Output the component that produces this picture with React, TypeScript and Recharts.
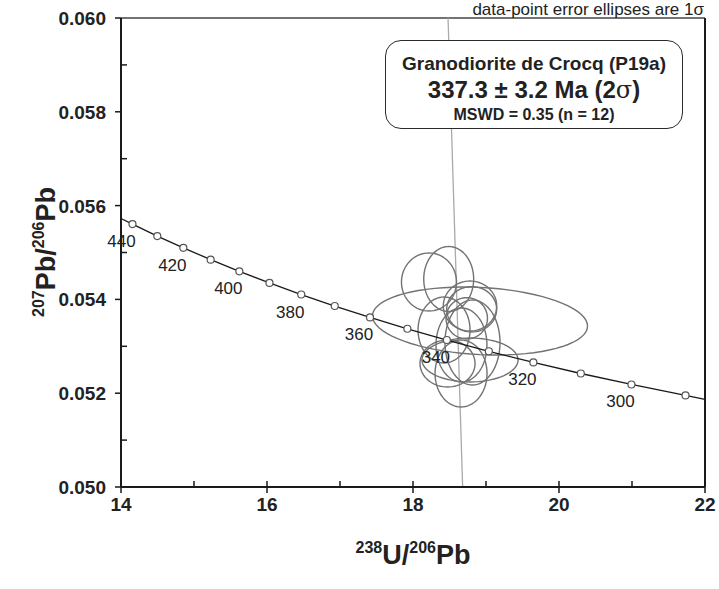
import React from 'react';
import { ScatterChart, Scatter, XAxis, YAxis, ReferenceLine } from 'recharts';

// Concordia age markers (Ma) and their Tera-Wasserburg coordinates
const ages = [440, 430, 420, 410, 400, 390, 380, 370, 360, 350, 340, 330, 320, 310, 300, 290];
const concX = [14.157, 14.497, 14.854, 15.228, 15.621, 16.034, 16.469, 16.928, 17.411, 17.923, 18.464, 19.039, 19.649, 20.299, 20.992, 21.733];
const concY = [0.055606, 0.055351, 0.0551, 0.054848, 0.054598, 0.054351, 0.054104, 0.053859, 0.053616, 0.053374, 0.053134, 0.052894, 0.052656, 0.05242, 0.052186, 0.051952];
// where the curve meets the left and right frame
const concEndX = [14, 22];
const concEndY = [0.055725, 0.051869];

// Analyses: ellipse centres, 1-sigma half-widths and error correlation
const ellX = [18.219, 18.489, 18.918, 18.781, 18.804, 18.736, 18.425, 18.664, 18.815, 18.473, 18.781, 18.658];
const ellY = [0.054371, 0.054435, 0.053539, 0.053859, 0.053789, 0.053597, 0.053348, 0.053028, 0.053081, 0.052633, 0.052708, 0.05242];
const ellSx = [0.377, 0.342, 1.473, 0.366, 0.342, 0.284, 0.356, 0.349, 0.377, 0.377, 0.658, 0.356];
const ellSy = [0.000619, 0.000693, 0.000725, 0.000533, 0.000484, 0.000441, 0.000703, 0.000789, 0.000906, 0.000501, 0.000469, 0.000714];
const ellRho = [0, 0, -0.15, 0, 0, 0, 0, 0, 0, 0, 0, 0];

// Regression line through the data
const regX = [18.48, 18.68];
const regY = [0.06, 0.05];

const xTicks = [14, 15, 16, 17, 18, 19, 20, 21, 22];
const yTicks = [0.05, 0.051, 0.052, 0.053, 0.054, 0.055, 0.056, 0.057, 0.058, 0.059, 0.06];

const FONT = '"Liberation Sans", Arial, Helvetica, sans-serif';
const AXIS = '#1a1a1a';

const markers = ages.map((age, i) => ({ age, x: concX[i], y: concY[i] }));
const curve = [
  { x: concEndX[0], y: concEndY[0] },
  ...markers.map((m) => ({ x: m.x, y: m.y })),
  { x: concEndX[1], y: concEndY[1] },
];

const ellipseOutline = (i: number) => {
  const pts = [];
  const r = ellRho[i];
  const k = Math.sqrt(1 - r * r);
  for (let s = 0; s <= 72; s++) {
    const t = (s / 72) * Math.PI * 2;
    pts.push({
      x: ellX[i] + ellSx[i] * Math.cos(t),
      y: ellY[i] + ellSy[i] * (r * Math.cos(t) + k * Math.sin(t)),
    });
  }
  return pts;
};

const XTick = (props: any) => {
  const { x, y, payload } = props;
  const major = payload.value % 2 === 0;
  return (
    <g>
      <line x1={x} x2={x} y1={major ? y + 6 : y} y2={y - 6} stroke={AXIS} strokeWidth={1.5} />
      {major && (
        <text x={x} y={y + 24} textAnchor="middle" fontFamily={FONT} fontWeight="bold" fontSize={19} fill="#222">
          {payload.value}
        </text>
      )}
    </g>
  );
};

const YTick = (props: any) => {
  const { x, y, payload } = props;
  const major = Math.round(payload.value * 1000) % 2 === 0;
  return (
    <g>
      {major ? (
        <line x1={x - 6} x2={x} y1={y} y2={y} stroke={AXIS} strokeWidth={1.5} />
      ) : (
        <line x1={x} x2={x + 6} y1={y} y2={y} stroke={AXIS} strokeWidth={1.5} />
      )}
      {major && (
        <text x={x - 15} y={y + 7} textAnchor="end" fontFamily={FONT} fontWeight="bold" fontSize={19} fill="#222">
          {payload.value.toFixed(3)}
        </text>
      )}
    </g>
  );
};

const AgeMarker = (props: any) => {
  const { cx, cy, payload } = props;
  return (
    <g>
      <circle cx={cx} cy={cy} r={3.5} fill="#fff" stroke="#555" strokeWidth={1.2} />
      {payload.age % 20 === 0 && (
        <text x={cx - 11} y={cy + 23} textAnchor="middle" fontFamily={FONT} fontSize={17} fill="#222">
          {payload.age}
        </text>
      )}
    </g>
  );
};

const noDot = () => <g />;

const sup = { fontSize: 16, position: 'relative' as const, top: -11, verticalAlign: 'baseline' };

export default function App() {
  return (
    <div style={{ position: 'absolute', left: 0, top: 0, width: 719, height: 589, fontFamily: FONT, background: '#fff' }}>
      <ScatterChart width={719} height={589} margin={{ top: 18, right: 14, bottom: 0, left: 0 }}>
        <XAxis
          type="number"
          dataKey="x"
          domain={[14, 22]}
          ticks={xTicks}
          interval={0}
          height={102}
          tickSize={0}
          tickMargin={0}
          tickLine={false}
          tick={XTick}
          axisLine={{ stroke: AXIS, strokeWidth: 2 }}
        />
        <YAxis
          type="number"
          dataKey="y"
          domain={[0.05, 0.06]}
          ticks={yTicks}
          interval={0}
          width={121}
          tickSize={0}
          tickMargin={0}
          tickLine={false}
          tick={YTick}
          axisLine={{ stroke: AXIS, strokeWidth: 2 }}
        />
        <ReferenceLine y={0.06} stroke="#444" strokeWidth={1.5} />
        <ReferenceLine x={22} stroke={AXIS} strokeWidth={2} />
        {ellX.map((_, i) => (
          <Scatter
            key={i}
            data={ellipseOutline(i)}
            line={{ stroke: '#727272', strokeWidth: 1.4 }}
            lineType="joint"
            shape={noDot}
            fill="none"
            isAnimationActive={false}
          />
        ))}
        <ReferenceLine
          segment={[
            { x: regX[0], y: regY[0] },
            { x: regX[1], y: regY[1] },
          ]}
          stroke="#aaa"
          strokeWidth={1.3}
        />
        <Scatter
          data={curve}
          line={{ stroke: '#1a1a1a', strokeWidth: 1.3 }}
          lineType="joint"
          shape={noDot}
          fill="none"
          isAnimationActive={false}
        />
        <Scatter data={markers} shape={AgeMarker} isAnimationActive={false} />
      </ScatterChart>

      <div style={{ position: 'absolute', right: 15, top: 1, fontSize: 17, color: '#222', lineHeight: '18px' }}>
        data-point error ellipses are 1σ
      </div>

      <div
        style={{
          position: 'absolute',
          left: 385,
          top: 40,
          width: 298,
          height: 89,
          boxSizing: 'border-box',
          border: '1.5px solid #2a2a2a',
          borderRadius: 16,
          background: '#fff',
          color: '#222',
          fontWeight: 'bold',
          textAlign: 'center',
        }}
      >
        <div style={{ position: 'absolute', left: 0, right: 0, top: 11, fontSize: 19, lineHeight: '24px' }}>
          Granodiorite de Crocq (P19a)
        </div>
        <div style={{ position: 'absolute', left: 0, right: 0, top: 35, fontSize: 24, lineHeight: '28px' }}>
          337.3 ± 3.2 Ma (2<span style={{ fontWeight: 'normal', fontFamily: '"DejaVu Serif", serif' }}>σ</span>)
        </div>
        <div style={{ position: 'absolute', left: 0, right: 0, top: 64, fontSize: 16, lineHeight: '20px' }}>
          MSWD = 0.35 (n = 12)
        </div>
      </div>

      <div
        style={{
          position: 'absolute',
          left: 46,
          top: 252,
          transform: 'translate(-50%, -50%) rotate(-90deg)',
          whiteSpace: 'nowrap',
          fontSize: 27,
          fontWeight: 'bold',
          color: '#222',
          lineHeight: 1,
        }}
      >
        <span style={sup}>207</span>Pb/<span style={sup}>206</span>Pb
      </div>

      <div
        style={{
          position: 'absolute',
          left: 413,
          top: 555,
          transform: 'translate(-50%, -50%)',
          whiteSpace: 'nowrap',
          fontSize: 27,
          fontWeight: 'bold',
          color: '#222',
          lineHeight: 1,
        }}
      >
        <span style={sup}>238</span>U/<span style={sup}>206</span>Pb
      </div>
    </div>
  );
}
